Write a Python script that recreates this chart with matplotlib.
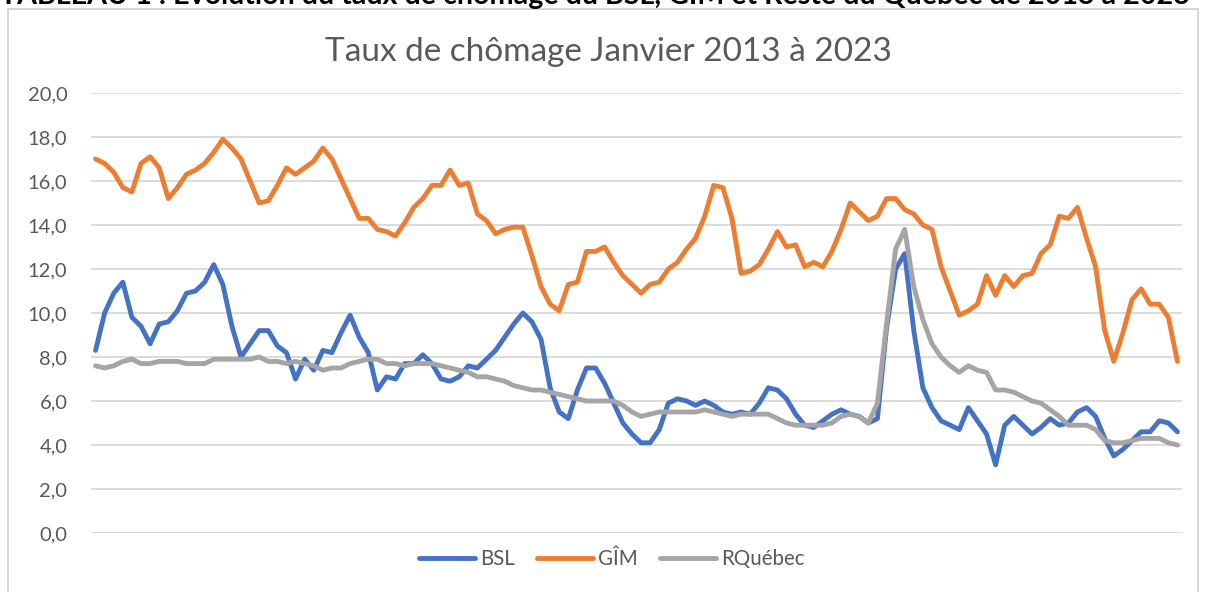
import numpy as np
import matplotlib
matplotlib.use("Agg")
import matplotlib.pyplot as plt
from matplotlib.patches import Rectangle
from matplotlib.ticker import FuncFormatter, MultipleLocator

# taux de chômage mensuels, janvier 2013 -> décembre 2022
bsl = [8.3, 10.0, 10.9, 11.4, 9.8, 9.4, 8.6, 9.5, 9.6, 10.1,
       10.9, 11.0, 11.4, 12.2, 11.3, 9.4, 8.0, 8.6, 9.2, 9.2,
       8.5, 8.2, 7.0, 7.9, 7.4, 8.3, 8.2, 9.1, 9.9, 8.9,
       8.2, 6.5, 7.1, 7.0, 7.7, 7.7, 8.1, 7.7, 7.0, 6.9,
       7.1, 7.6, 7.5, 7.9, 8.3, 8.9, 9.5, 10.0, 9.6, 8.8,
       6.6, 5.5, 5.2, 6.5, 7.5, 7.5, 6.8, 5.9, 5.0, 4.5,
       4.1, 4.1, 4.7, 5.9, 6.1, 6.0, 5.8, 6.0, 5.8, 5.5,
       5.4, 5.5, 5.4, 5.9, 6.6, 6.5, 6.1, 5.4, 4.9, 4.8,
       5.1, 5.4, 5.6, 5.4, 5.3, 5.0, 5.2, 9.3, 12.0, 12.7,
       9.2, 6.6, 5.7, 5.1, 4.9, 4.7, 5.7, 5.1, 4.5, 3.1,
       4.9, 5.3, 4.9, 4.5, 4.8, 5.2, 4.9, 5.0, 5.5, 5.7,
       5.3, 4.3, 3.5, 3.8, 4.2, 4.6, 4.6, 5.1, 5.0, 4.6]

gim = [17.0, 16.8, 16.4, 15.7, 15.5, 16.8, 17.1, 16.6, 15.2, 15.7,
       16.3, 16.5, 16.8, 17.3, 17.9, 17.5, 17.0, 16.0, 15.0, 15.1,
       15.8, 16.6, 16.3, 16.6, 16.9, 17.5, 17.0, 16.1, 15.2, 14.3,
       14.3, 13.8, 13.7, 13.5, 14.1, 14.8, 15.2, 15.8, 15.8, 16.5,
       15.8, 15.9, 14.5, 14.2, 13.6, 13.8, 13.9, 13.9, 12.6, 11.2,
       10.4, 10.1, 11.3, 11.4, 12.8, 12.8, 13.0, 12.3, 11.7, 11.3,
       10.9, 11.3, 11.4, 12.0, 12.3, 12.9, 13.4, 14.4, 15.8, 15.7,
       14.3, 11.8, 11.9, 12.2, 12.9, 13.7, 13.0, 13.1, 12.1, 12.3,
       12.1, 12.8, 13.8, 15.0, 14.6, 14.2, 14.4, 15.2, 15.2, 14.7,
       14.5, 14.0, 13.8, 12.1, 11.0, 9.9, 10.1, 10.4, 11.7, 10.8,
       11.7, 11.2, 11.7, 11.8, 12.7, 13.1, 14.4, 14.3, 14.8, 13.4,
       12.1, 9.2, 7.8, 9.1, 10.6, 11.1, 10.4, 10.4, 9.8, 7.8]

rquebec = [7.6, 7.5, 7.6, 7.8, 7.9, 7.7, 7.7, 7.8, 7.8, 7.8,
           7.7, 7.7, 7.7, 7.9, 7.9, 7.9, 7.9, 7.9, 8.0, 7.8,
           7.8, 7.7, 7.8, 7.7, 7.6, 7.4, 7.5, 7.5, 7.7, 7.8,
           7.9, 7.9, 7.7, 7.7, 7.6, 7.7, 7.7, 7.7, 7.6, 7.5,
           7.4, 7.3, 7.1, 7.1, 7.0, 6.9, 6.7, 6.6, 6.5, 6.5,
           6.4, 6.3, 6.2, 6.1, 6.0, 6.0, 6.0, 6.0, 5.8, 5.5,
           5.3, 5.4, 5.5, 5.5, 5.5, 5.5, 5.5, 5.6, 5.5, 5.4,
           5.3, 5.4, 5.4, 5.4, 5.4, 5.2, 5.0, 4.9, 4.9, 4.9,
           4.9, 5.0, 5.3, 5.4, 5.3, 5.0, 5.9, 9.5, 12.9, 13.8,
           11.2, 9.7, 8.6, 8.0, 7.6, 7.3, 7.6, 7.4, 7.3, 6.5,
           6.5, 6.4, 6.2, 6.0, 5.9, 5.6, 5.3, 4.9, 4.9, 4.9,
           4.7, 4.2, 4.1, 4.1, 4.2, 4.3, 4.3, 4.3, 4.1, 4.0]

series = ["BSL", "GÎM", "RQuébec"]
couleurs = ["#4472C4", "#ED7D31", "#A5A5A5"]

titre = "Taux de chômage Janvier 2013 à 2023"
entete = "TABLEAU 1 : Évolution du taux de chômage du BSL, GÎM et Reste du Québec de 2013 à 2023"

plt.rcParams["font.family"] = ["Lato", "DejaVu Sans"]
gris_texte = "#595959"

fig = plt.figure(figsize=(12.07, 5.92), dpi=100)

# cadre du graphique
fig.patches.append(Rectangle((7.5 / 1207, -0.05), (1198 - 7.5) / 1207, 1.05 - 9 / 592,
                             transform=fig.transFigure, fill=False,
                             edgecolor="#D0D0D0", linewidth=1.2))

# entête coupé en haut de l'image (comme sur l'original)
fig.text(0.0, 1 - 4 / 592, entete, ha="left", va="baseline",
         fontsize=20.6, fontweight="bold", color="black")

ax = fig.add_axes([91 / 1207, 59 / 592, (1182 - 91) / 1207, 440 / 592])

x = np.arange(len(bsl))
for nom, valeurs, c in zip(series, [bsl, gim, rquebec], couleurs):
    ax.plot(x, valeurs, color=c, linewidth=3.5, label=nom,
            solid_joinstyle="round", solid_capstyle="round")

ax.set_xlim(-0.5, len(bsl) - 0.5)
ax.set_ylim(0, 20)
ax.yaxis.set_major_locator(MultipleLocator(2))
ax.yaxis.set_major_formatter(FuncFormatter(lambda v, p: f"{v:.1f}".replace(".", ",")))
ax.grid(axis="y", color="#D9D9D9", linewidth=1.3)
ax.set_axisbelow(True)
ax.set_xticks([])
ax.tick_params(axis="y", length=0, pad=17, labelsize=14.5, labelcolor=gris_texte)
for s in ax.spines.values():
    s.set_visible(False)

fig.text(608 / 1207, 1 - 52 / 592, titre, ha="center", va="center",
         fontsize=24, color=gris_texte)

leg = fig.legend(loc="center", bbox_to_anchor=(612 / 1207, 1 - 559 / 592), ncol=3,
                 frameon=False, fontsize=14.8, handlelength=2.7, handletextpad=0.25,
                 columnspacing=1.1)
for t in leg.get_texts():
    t.set_color(gris_texte)
for h in leg.get_lines():
    h.set_linewidth(3.5)

fig.savefig("out.png", dpi=100)
